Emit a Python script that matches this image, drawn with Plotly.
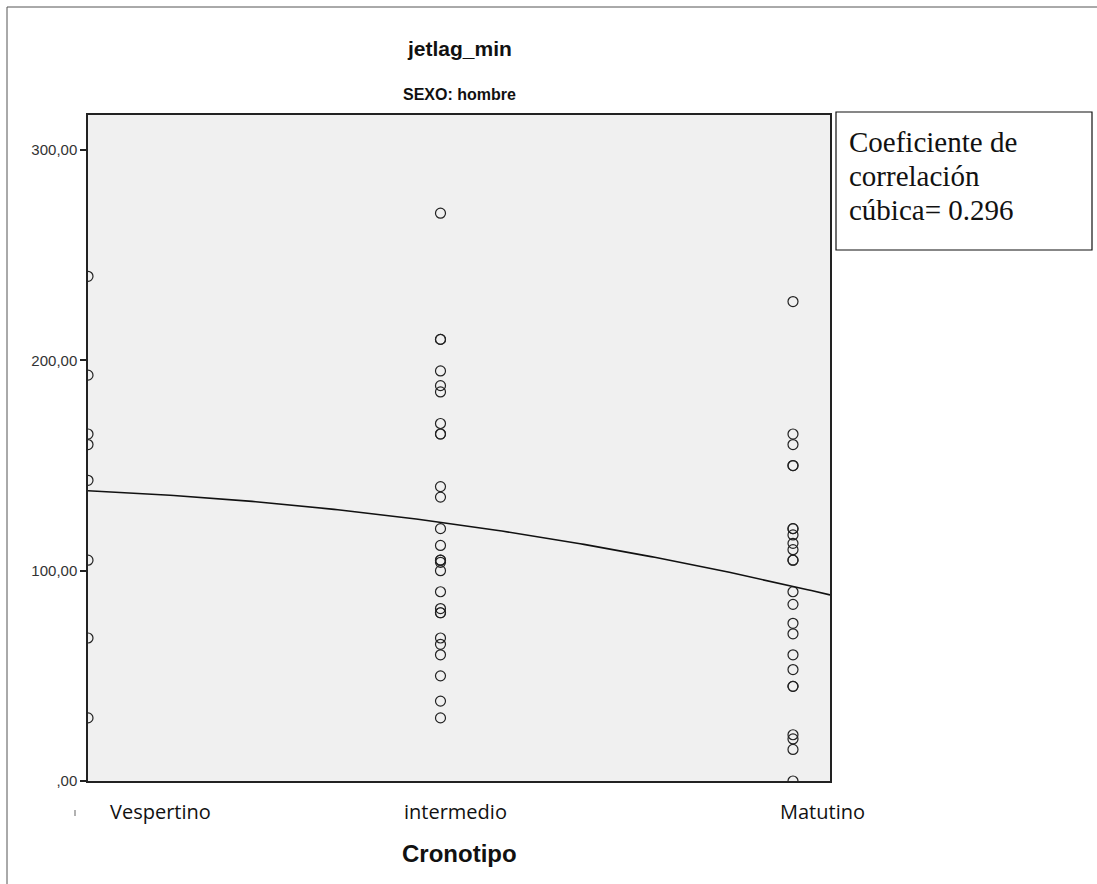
import numpy as np
import plotly.graph_objects as go

# ---- data ----
categories = ["Vespertino", "intermedio", "Matutino"]
cat_codes = [1, 2, 3]
vespertino = [240, 193, 165, 160, 143, 105, 68, 30]
intermedio = [270, 210, 210, 195, 188, 185, 170, 165, 165, 140, 135, 120, 112,
              105, 105, 104, 100, 90, 82, 80, 80, 68, 65, 60, 50, 38, 30]
matutino = [228, 165, 160, 150, 150, 120, 120, 117, 113, 110, 105, 105, 90, 84,
            75, 70, 60, 53, 45, 45, 22, 20, 15, 0]
y_ticks = [0, 100, 200, 300]
y_ticktext = [",00", "100,00", "200,00", "300,00"]
title = "jetlag_min"
subtitle = "SEXO: hombre"
x_title = "Cronotipo"
box_lines = ["Coeficiente de", "correlación", "cúbica= 0.296"]

groups = [vespertino, intermedio, matutino]
xs = np.concatenate([[c] * len(g) for c, g in zip(cat_codes, groups)]).astype(float)
ys = np.concatenate(groups).astype(float)

# fitted curve (polynomial fit on the data; only 3 distinct x values)
coef = np.polyfit(xs, ys, 2)
x_min, x_max = 1.0, 3.105
fx = np.linspace(x_min, x_max, 200)
fy = np.polyval(coef, fx)

W, H = 1097, 884
L, R, T, B = 88, 830, 115, 781

fig = go.Figure()
fig.add_trace(go.Scatter(x=xs, y=ys, mode="markers",
                         marker=dict(symbol="circle-open", size=10,
                                     color="#222", line=dict(width=1.2)),
                         cliponaxis=True, showlegend=False))
fig.add_trace(go.Scatter(x=fx, y=fy, mode="lines",
                         line=dict(color="#111", width=1.6),
                         showlegend=False))

fig.update_layout(
    width=W, height=H,
    margin=dict(l=L, r=W - R, t=T, b=H - B),
    paper_bgcolor="white", plot_bgcolor="#f0f0f0",
    showlegend=False,
)
fig.update_xaxes(range=[x_min, x_max], showgrid=False, zeroline=False,
                 showticklabels=False, ticks="",
                 showline=True, mirror=True, linecolor="#222", linewidth=1.5)
fig.update_yaxes(range=[0, 316.7], showgrid=False, zeroline=False,
                 tickvals=y_ticks, ticktext=y_ticktext,
                 ticks="outside", ticklen=6, tickcolor="#222", tickwidth=1.5,
                 tickfont=dict(family="Liberation Sans, Arial", size=15, color="#333"),
                 showline=True, mirror=True, linecolor="#222", linewidth=1.5)

# convert figure pixel positions to paper (plot-area relative) coordinates
def px(x):
    return (x - L) / (R - L)

def py(y):
    return (B - y) / (B - T)

ann = []
ann.append(dict(x=px(459), y=py(48), xref="paper", yref="paper", text="<b>" + title + "</b>",
                showarrow=False,
                font=dict(family="Liberation Sans, Arial", size=21, color="#111"),
                xanchor="center", yanchor="middle"))
ann.append(dict(x=px(459), y=py(94), xref="paper", yref="paper", text="<b>" + subtitle + "</b>",
                showarrow=False,
                font=dict(family="Liberation Sans, Arial", size=16, color="#111"),
                xanchor="center", yanchor="middle"))
ann.append(dict(x=px(459), y=py(853), xref="paper", yref="paper", text="<b>" + x_title + "</b>",
                showarrow=False, font=dict(family="Liberation Sans, Arial", size=24, color="#111"),
                xanchor="center", yanchor="middle"))
label_x = [160, 455, 822]
for lx, cat in zip(label_x, categories):
    ann.append(dict(x=px(lx), y=py(812), xref="paper", yref="paper", text=cat,
                    showarrow=False, font=dict(family="Open Sans, Noto Sans", size=20, color="#111"),
                    xanchor="center", yanchor="middle"))
for i, line in enumerate(box_lines):
    ann.append(dict(x=px(847), y=py(142 + 34 * i), xref="paper", yref="paper", text=line,
                    showarrow=False, align="left",
                    font=dict(family="Liberation Serif, Times New Roman", size=29, color="#111"),
                    xanchor="left", yanchor="middle"))

shapes = [
    # outer frame (left and top edges)
    dict(type="line", xref="paper", yref="paper", x0=px(7), y0=py(884), x1=px(7), y1=py(7),
         line=dict(color="#555", width=1)),
    dict(type="line", xref="paper", yref="paper", x0=px(7), y0=py(7), x1=px(1097), y1=py(7),
         line=dict(color="#555", width=1)),
    # text box
    dict(type="rect", xref="paper", yref="paper", x0=px(836), y0=py(250), x1=px(1092), y1=py(112),
         line=dict(color="#111", width=1.2), fillcolor="white", layer="below"),
    # small clipped mark near the first category label
    dict(type="line", xref="paper", yref="paper", x0=px(75), y0=py(810), x1=px(75), y1=py(816),
         line=dict(color="#999", width=1.5)),
]
fig.update_layout(annotations=ann, shapes=shapes)

fig.write_html("out.html")
